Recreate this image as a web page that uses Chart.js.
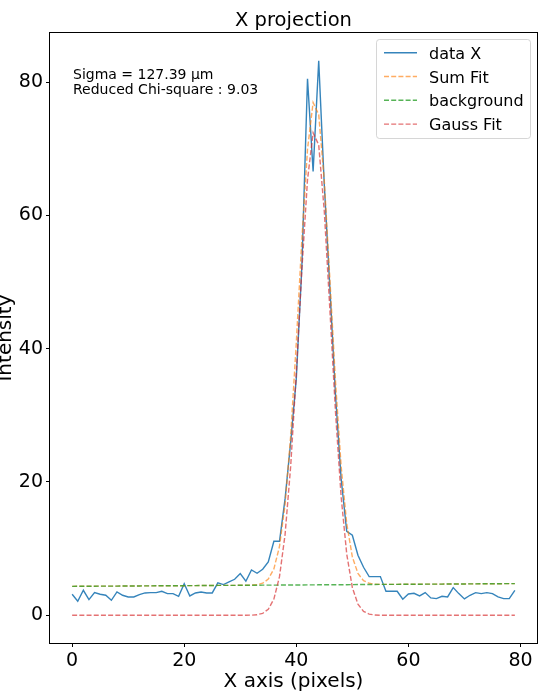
<!DOCTYPE html>
<html>
<head>
<meta charset="utf-8">
<script src="https://cdn.jsdelivr.net/npm/chart.js@4.4.0/dist/chart.umd.min.js"></script>
<style>
  html, body { margin: 0; padding: 0; background: #ffffff; }
  #wrap { width: 551px; height: 692px; }
</style>
</head>
<body>
<div id="wrap"><canvas id="c" width="551" height="692"></canvas></div>
<script>
// ---- Data ----
const xPixels = [0,1,2,3,4,5,6,7,8,9,10,11,12,13,14,15,16,17,18,19,20,21,22,23,24,25,26,27,28,29,30,31,32,33,34,35,36,37,38,39,40,41,42,43,44,45,46,47,48,49,50,51,52,53,54,55,56,57,58,59,60,61,62,63,64,65,66,67,68,69,70,71,72,73,74,75,76,77,78,79];

const dataX = [3.15,2.1,3.75,2.35,3.4,3.15,3.0,2.25,3.5,3.0,2.75,2.75,3.1,3.35,3.4,3.4,3.6,3.25,3.25,2.85,
  4.75,2.9,3.35,3.5,3.35,3.35,4.85,4.6,5.0,5.4,6.25,5.1,6.8,6.3,6.9,8.0,11.1,11.1,17.5,26.0,
  35.5,52.5,80.5,66.6,83.2,64.5,49.0,33.0,20.5,12.6,12.0,9.0,7.2,5.8,5.8,5.8,3.6,3.6,3.6,2.4,
  3.2,3.3,2.9,3.4,2.6,2.5,2.85,2.75,4.15,3.25,2.45,3.0,3.4,3.25,3.4,3.25,2.75,2.5,2.5,3.75];

const sumFit = [4.34,4.35,4.35,4.36,4.36,4.37,4.37,4.38,4.38,4.39,4.39,4.40,4.40,4.41,4.41,4.42,4.42,4.43,4.43,4.44,
  4.44,4.45,4.45,4.46,4.46,4.47,4.48,4.48,4.49,4.49,4.50,4.51,4.53,4.59,4.81,5.42,6.96,10.32,16.68,26.93,
  40.90,56.51,69.92,76.94,75.13,65.12,50.31,34.99,22.38,13.76,8.76,6.27,5.19,4.80,4.67,4.64,4.63,4.64,4.64,4.65,
  4.65,4.66,4.66,4.67,4.67,4.68,4.68,4.69,4.69,4.70,4.70,4.71,4.71,4.72,4.72,4.73,4.74,4.74,4.75,4.75];

const background = [4.34,4.35,4.35,4.36,4.36,4.37,4.37,4.38,4.38,4.39,4.39,4.40,4.40,4.41,4.41,4.42,4.42,4.43,4.43,4.44,
  4.44,4.45,4.45,4.46,4.46,4.47,4.48,4.48,4.49,4.49,4.50,4.50,4.51,4.51,4.52,4.52,4.53,4.53,4.54,4.54,
  4.55,4.55,4.56,4.56,4.57,4.57,4.58,4.58,4.59,4.59,4.60,4.61,4.61,4.62,4.62,4.63,4.63,4.64,4.64,4.65,
  4.65,4.66,4.66,4.67,4.67,4.68,4.68,4.69,4.69,4.70,4.70,4.71,4.71,4.72,4.72,4.73,4.74,4.74,4.75,4.75];

const gaussFit = [0,0,0,0,0,0,0,0,0,0,0,0,0,0,0,0,0,0,0,0,
  0,0,0,0,0,0,0,0,0,0,0.00,0.01,0.02,0.08,0.29,0.90,2.43,5.79,12.14,22.39,
  36.35,51.96,65.36,72.38,70.56,60.55,45.73,30.41,17.79,9.17,4.16,1.66,0.58,0.18,0.05,0.01,0,0,0,0,
  0,0,0,0,0,0,0,0,0,0,0,0,0,0,0,0,0,0,0,0];

const xTicks = [0, 20, 40, 60, 80];
const yTicks = [0, 20, 40, 60, 80];
const seriesNames = ['data X', 'Sum Fit', 'background', 'Gauss Fit'];
const titleText = 'X projection';
const xTitle = 'X axis (pixels)';
const yTitle = 'Intensity';
const annotLines = ['Sigma = 127.39 \u00b5m', 'Reduced Chi-square : 9.03'];

// ---- Styles ----
const FONT = "'DejaVu Sans', sans-serif";
const colors = ['rgba(31,119,180,0.9)', 'rgba(255,127,14,0.65)', 'rgba(44,160,44,0.8)', 'rgba(214,39,40,0.65)'];
const dashes = [[], [5, 2.2], [5, 2.2], [5, 2.2]];
const widths = [1.4, 1.4, 1.4, 1.4];

function pts(arr) { return xPixels.map((x, i) => ({ x: x, y: arr[i] })); }
const seriesArrays = [dataX, sumFit, background, gaussFit];

const datasets = seriesArrays.map((arr, k) => ({
  label: seriesNames[k],
  data: pts(arr),
  borderColor: colors[k],
  borderWidth: widths[k],
  borderDash: dashes[k],
  pointRadius: 0,
  tension: 0,
  fill: false,
  order: 4 - k
}));

const decor = {
  id: 'decor',
  afterDraw(chart) {
    const ctx = chart.ctx;
    const a = chart.chartArea;
    ctx.save();
    // frame
    ctx.strokeStyle = '#000';
    ctx.lineWidth = 1;
    ctx.strokeRect(Math.round(a.left) - 0.5, Math.round(a.top) - 0.5, Math.round(a.right - a.left) + 1, Math.round(a.bottom - a.top) + 1);

    ctx.fillStyle = '#000';
    // title
    ctx.font = '19.5px ' + FONT;
    ctx.textAlign = 'center';
    ctx.textBaseline = 'alphabetic';
    const cx = (a.left + a.right) / 2;
    ctx.fillText(titleText, cx, 25.5);
    // x title
    ctx.font = '20px ' + FONT;
    ctx.fillText(xTitle, cx, 687);
    // y title (partly clipped at the left edge, as in the reference)
    ctx.save();
    ctx.translate(11, (a.top + a.bottom) / 2);
    ctx.rotate(-Math.PI / 2);
    ctx.fillText(yTitle, 0, 0);
    ctx.restore();

    // annotation
    ctx.font = '14px ' + FONT;
    ctx.textAlign = 'left';
    ctx.fillText(annotLines[0], 73, 78.5);
    ctx.fillText(annotLines[1], 73, 94);

    // legend
    const bx = 376.5, by = 39.5, bw = 154, bh = 99, r = 3;
    ctx.beginPath();
    ctx.moveTo(bx + r, by);
    ctx.lineTo(bx + bw - r, by);
    ctx.quadraticCurveTo(bx + bw, by, bx + bw, by + r);
    ctx.lineTo(bx + bw, by + bh - r);
    ctx.quadraticCurveTo(bx + bw, by + bh, bx + bw - r, by + bh);
    ctx.lineTo(bx + r, by + bh);
    ctx.quadraticCurveTo(bx, by + bh, bx, by + bh - r);
    ctx.lineTo(bx, by + r);
    ctx.quadraticCurveTo(bx, by, bx + r, by);
    ctx.closePath();
    ctx.fillStyle = 'rgba(255,255,255,0.8)';
    ctx.fill();
    ctx.strokeStyle = 'rgba(204,204,204,0.8)';
    ctx.lineWidth = 1;
    ctx.stroke();

    ctx.font = '16px ' + FONT;
    for (let k = 0; k < 4; k++) {
      const yy = 52.7 + k * 23.8;
      ctx.beginPath();
      ctx.strokeStyle = colors[k];
      ctx.lineWidth = widths[k];
      ctx.setLineDash(dashes[k]);
      ctx.moveTo(384, yy);
      ctx.lineTo(417, yy);
      ctx.stroke();
      ctx.setLineDash([]);
      ctx.fillStyle = '#000';
      ctx.textBaseline = 'alphabetic';
      ctx.fillText(seriesNames[k], 429, yy + 6);
    }
    ctx.restore();
  }
};

function axisCommon(ticksArr, isX) {
  return {
    type: 'linear',
    afterBuildTicks(s) { s.ticks = ticksArr.map(v => ({ value: v })); },
    grid: { display: true, drawOnChartArea: false, drawTicks: true, tickLength: 4, tickWidth: 1, tickColor: '#000' },
    border: { display: false },
    ticks: {
      font: { family: 'DejaVu Sans', size: 19 },
      color: '#000',
      padding: isX ? 3 : 3,
      maxRotation: 0,
      minRotation: 0,
      autoSkip: false,
      callback: (v) => String(v)
    }
  };
}

const xAxis = Object.assign(axisCommon(xTicks, true), {
  min: -3.95, max: 82.95,
  afterFit(s) { s.height = 49; }
});
const yAxis = Object.assign(axisCommon(yTicks, false), {
  min: -4.16, max: 87.36,
  afterFit(s) { s.width = 50; }
});

new Chart(document.getElementById('c').getContext('2d'), {
  type: 'line',
  data: { datasets: datasets },
  options: {
    responsive: false,
    animation: false,
    devicePixelRatio: 1,
    layout: { padding: { top: 33, right: 14, left: 0, bottom: 0 } },
    plugins: { legend: { display: false }, tooltip: { enabled: false }, title: { display: false } },
    scales: { x: xAxis, y: yAxis }
  },
  plugins: [decor]
});
</script>
</body>
</html>
